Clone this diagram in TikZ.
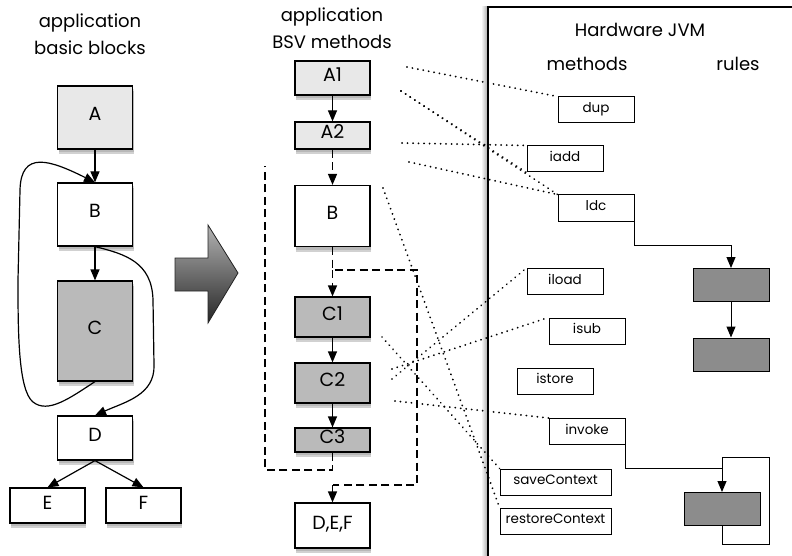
\documentclass[tikz,border=0pt]{standalone}
\usepackage{fontspec}
\setmainfont{Poppins}
\usetikzlibrary{arrows.meta}

\tikzset{
  blk/.style={draw, line width=1.2pt, inner sep=0pt, minimum width=75pt,
    text height=0.7em, text depth=0pt, font=\fontsize{19}{19}\selectfont,
    preaction={fill=black, opacity=0.12, transform canvas={xshift=1pt, yshift=-3pt}},
    preaction={fill=black, opacity=0.18, transform canvas={xshift=1pt, yshift=-5pt}}},
  meth/.style={draw, line width=1pt, inner sep=0pt, minimum width=76pt,
    minimum height=26pt, text height=0.72em, text depth=0.18em,
    font=\fontsize{13.5}{13.5}\selectfont},
  rulebox/.style={draw, line width=1pt, fill=black!45, inner sep=0pt,
    minimum width=76pt, minimum height=33pt},
  heading/.style={align=center, font=\fontsize{18}{27}\selectfont},
  uses/.style={line width=2pt, line cap=round, dash pattern=on 0.01pt off 5.5pt},
  flow/.style={line width=1.3pt, dash pattern=on 8pt off 4.5pt},
}

\begin{document}
\begin{tikzpicture}[x=1pt, y=-1pt, >={Triangle[length=11pt,width=9pt]}]
\useasboundingbox (0,0) rectangle (792,556);

% hardware panel
\shade[left color=white, right color=black!35] (481,7) rectangle (488,556);
\draw[line width=1.4pt] (792,7) -- (488,7) -- (488,556);

% headings
\node[heading] (Tbb)  at (90,34)  {application\\basic blocks};
\node[heading] (Tbsv) at (332,28) {application\\BSV methods};
\node[heading] (Thw)  at (640,30) {Hardware JVM};
\node[heading] (Tm)   at (587,64) {methods};
\node[heading] (Tr)   at (738,64) {rules};

% basic blocks
\node[blk, fill=black!9, minimum height=63pt]  (A) at (95,117.5) {A};
\node[blk, fill=white,   minimum height=63pt]  (B) at (95,214.5) {B};
\node[blk, fill=black!27, minimum height=100pt] (C) at (95,331)   {C};
\node[blk, fill=white,   minimum height=44pt]  (D) at (95,438)   {D};
\node[blk, fill=white,   minimum height=35pt]  (E) at (47.5,505.5)  {E};
\node[blk, fill=white,   minimum height=35pt]  (F) at (143.5,505.5) {F};

\draw[line width=1.2pt, ->] (A) -- (B);
\draw[line width=1.2pt, ->] (B) -- (C);
\draw[line width=1.2pt, ->] (D.south) -- (E.north);
\draw[line width=1.2pt, ->] (D.south) -- (F.north);
\draw[line width=1.2pt, ->] (C.south) .. controls (70,398) and (48,414) .. (33,402)
  .. controls (18,390) and (18,330) .. (18,280) -- (20,190)
  .. controls (21,150) and (50,160) .. (B.north);
\draw[line width=1.2pt, ->] (B.south) .. controls (125,254) and (152,262) .. (153,300)
  -- (154,365) .. controls (155,395) and (125,402) .. (D.north);

% big arrow
\shade[top color=black!30, bottom color=black!85, draw=black!85, line width=0.8pt]
  (175,258) -- (208,258) -- (208,225) -- (238,273) -- (208,323) -- (208,291)
  -- (175,291) -- cycle;

% BSV methods
\node[blk, fill=black!9,  minimum height=34pt] (A1)  at (332.5,78)    {A1};
\node[blk, fill=black!9,  minimum height=27pt] (A2)  at (332.5,135.5) {A2};
\node[blk, fill=white,    minimum height=61pt] (Bm)  at (332.5,216)   {B};
\node[blk, fill=black!27, minimum height=40pt] (C1)  at (332.5,317)   {C1};
\node[blk, fill=black!27, minimum height=40pt] (C2)  at (332.5,383)   {C2};
\node[blk, fill=black!27, minimum height=24pt] (C3)  at (332.5,440)   {C3};
\node[blk, fill=white,    minimum height=45pt] (DEF) at (332.5,525.5) {D,E,F};

\coordinate (LT) at (265,166); % loop back into B
\coordinate (LB) at (265,470);
\coordinate (SP) at (332.5,270); % split below B
\coordinate (SR) at (417,270);
\coordinate (SE) at (417,485);

\draw[line width=1.2pt, ->] (A1) -- (A2);
\draw[line width=1.2pt, ->] (C1) -- (C2);
\draw[line width=1.2pt, ->] (C2) -- (C3);
\draw[flow, ->] (A2) -- (Bm);
\draw[flow] (C3.south) |- (LB) |- (LT);
\draw[flow] (Bm.south) -- (SP) -- (SR) -- (SE) -- (DEF.north |- SE);
\draw[flow, ->] (DEF.north |- SE) -- (DEF.north);
\draw[flow, ->] (SP) -- (C1.north);

% JVM methods
\node[meth] (dup)    at (596,110)   {dup};
\node[meth] (iadd)   at (565,159)   {iadd};
\node[meth] (ldc)    at (596,208)   {ldc};
\node[meth] (iload)  at (565,281.5) {iload};
\node[meth] (isub)   at (587,331)   {isub};
\node[meth] (istore) at (555,381)   {istore};
\node[meth] (invoke) at (587,431.5) {invoke};
\node[meth, minimum width=111pt] (save) at (555.5,482) {saveContext};
\node[meth, minimum width=111pt] (rest) at (555.5,521) {restoreContext};

% JVM rules
\node[rulebox] (R1) at (731,285)   {};
\node[rulebox] (R2) at (731,354.5) {};
\node[rulebox] (R3) at (722,509)   {};

\coordinate (LDCT) at (731,245);
\coordinate (INVT) at (722,468);
\coordinate (RLT)  at (722,457);
\coordinate (RLB)  at (769,544);

\draw[line width=1pt, ->] (ldc.south east) |- (LDCT) -- (R1.north);
\draw[line width=1pt, ->] (R1) -- (R2);
\draw[line width=1pt, ->] (invoke.south east) |- (INVT) -- (R3.north);
\draw[line width=1pt] (R3.south) |- (RLB) |- (RLT) -- (INVT);

% which JVM methods each BSV method calls
\coordinate (uA1a) at (407,67);
\coordinate (uA1b) at (401,91);
\coordinate (uA2a) at (402,143);
\coordinate (uA2b) at (409,162);
\coordinate (uB)   at (383,188);
\coordinate (uC1)  at (382,337);
\coordinate (uC2a) at (392,369);
\coordinate (uC2b) at (392,379);
\coordinate (uC2c) at (395,401);

\draw[uses] (uA1a) -- (dup.north west);
\draw[uses] (uA1b) -- (iadd.south west);
\draw[uses] (uA1b) -- (ldc.north west);
\draw[uses] (uA2a) -- (iadd.north west);
\draw[uses] (uA2b) -- (ldc.north west);
\draw[uses] (uB)   -- (rest.north west);
\draw[uses] (uC1)  -- (save.north west);
\draw[uses] (uC2a) -- (isub.north west);
\draw[uses] (uC2b) -- (iload.north west);
\draw[uses] (uC2c) -- (invoke.north west);
\end{tikzpicture}
\end{document}
